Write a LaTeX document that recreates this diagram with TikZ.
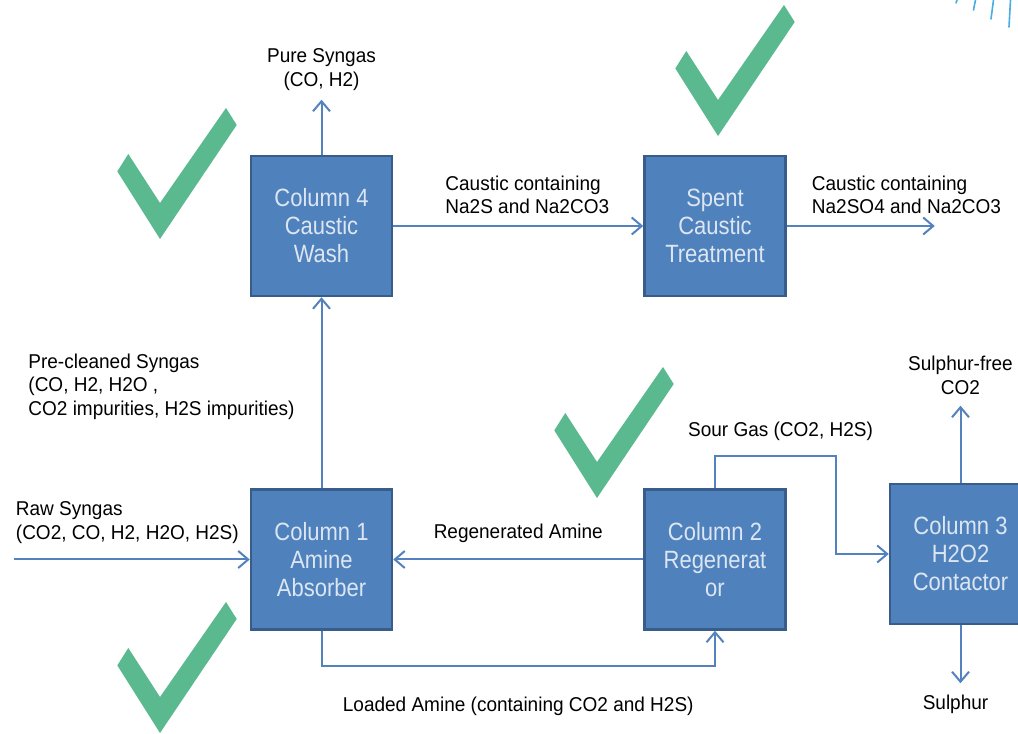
\documentclass[tikz,border=0pt]{standalone}
\usepackage{fontspec}
\setmainfont{Liberation Sans}
\newfontfamily\boxfont[FakeStretch=0.88]{Liberation Sans}
\newfontfamily\lblfont[FakeStretch=0.95]{Liberation Sans}
\usetikzlibrary{arrows.meta, positioning}

\definecolor{colblue}{RGB}{79,129,189}
\definecolor{coledge}{RGB}{56,93,138}
\definecolor{coltext}{RGB}{220,230,242}
\definecolor{flowblue}{RGB}{84,130,190}
\definecolor{tickgreen}{RGB}{91,185,144}
\definecolor{skyblue}{RGB}{72,173,226}

\begin{document}
\begin{tikzpicture}[
    x=1pt, y=1pt,
    node distance=191pt and 250pt,
    column/.style={rectangle, draw=coledge, line width=2.5pt, fill=colblue, text=coltext, minimum width=141pt, minimum height=140pt, inner sep=0pt, align=center, font={\boxfont\fontsize{25}{28}\selectfont}},
    lbl/.style={inner sep=0pt, text=black, font={\lblfont\fontsize{20}{23.5}\selectfont}},
    flow/.style={-{Straight Barb[length=10pt,width=17pt]}, flowblue, line width=2pt},
    tickmark/.pic={\fill[tickgreen] (-31.7,85) -- (-42.7,67.6) -- (0,0) -- (76.7,114) -- (66,131) -- (0,36) -- cycle;}
]
    \clip (0,0) rectangle (1018,734);
    \fill[white] (0,0) rectangle (1018,734);

    % columns
    \node[column] (col4) at (321.5,508) {Column 4\\Caustic\\Wash};
    \node[column, right=of col4] (spent) {Spent\\Caustic\\Treatment};
    \node[column, below=of col4] (col1) {Column 1\\Amine\\Absorber};
    \node[column, below=of spent] (col2) {Column 2\\Regenerat\\or};
    \node[column, right=102pt of col2, yshift=5.5pt] (col3) {Column 3\\H2O2\\Contactor};

    % free ends
    \coordinate[above=55pt of col4.north] (pure);
    \coordinate[right=148pt of spent.east] (treated);
    \coordinate[left=236pt of col1.west] (raw);
    \coordinate[below=35pt of col1.south] (loadA);
    \coordinate[above=32pt of col2.north] (sourA);
    \coordinate[above=77pt of col3.north] (co2free);
    \coordinate[below=58pt of col3.south] (sulphur);

    % streams
    \draw[flow] (col4) -- (pure);
    \draw[flow] (col1) -- node[lbl, align=left, left=26pt, yshift=6pt] (preLbl) {Pre-cleaned Syngas\\(CO, H2, H2O ,\\CO2 impurities, H2S impurities)} (col4);
    \draw[flow] (col4) -- (spent);
    \draw[flow] (spent) -- (treated);
    \draw[flow] (raw) -- (col1);
    \draw[flow] (col2) -- node[lbl, above=16pt] (regenLbl) {Regenerated Amine} (col1);
    \draw[flow] (col1) -- (loadA) -| node[lbl, pos=0.25, below=30pt] (loadLbl) {Loaded Amine (containing CO2 and H2S)} (col2);
    \draw[flow] (col2) -- (sourA) -- node[lbl, above=15pt, xshift=5pt] (sourLbl) {Sour Gas (CO2, H2S)} ++(121pt,0) |- (col3);
    \draw[flow] (col3) -- (co2free);
    \draw[flow] (col3) -- (sulphur);

    % labels
    \node[lbl, align=center, above=9pt of pure] (pureLbl) {Pure Syngas\\(CO, H2)};
    \node[lbl, align=left, above right=12pt and 52pt of col4.east] (causticLbl) {Caustic containing\\Na2S and Na2CO3};
    \node[lbl, align=left, above right=12pt and 25pt of spent.east] (treatedLbl) {Caustic containing\\Na2SO4 and Na2CO3};
    \node[lbl, align=left, above right=16pt and 2pt of raw] (rawLbl) {Raw Syngas\\(CO2, CO, H2, H2O, H2S)};
    \node[lbl, align=center, above=11pt of co2free] (co2Lbl) {Sulphur-free\\CO2};
    \node[lbl, below=12pt of sulphur, xshift=-5pt] (sulphurLbl) {Sulphur};

    % ticks
    \pic at (160,495) {tickmark};
    \pic at (718,598) {tickmark};
    \pic at (597,236) {tickmark};
    \pic at (160,1) {tickmark};

    % corner strokes
    \draw[skyblue, line width=1.6pt, line cap=round] (957,734) -- (956,731) (975.5,734) -- (973.5,724) (993.5,734) -- (991,715) (1010.5,734) -- (1009,707);
\end{tikzpicture}
\end{document}
